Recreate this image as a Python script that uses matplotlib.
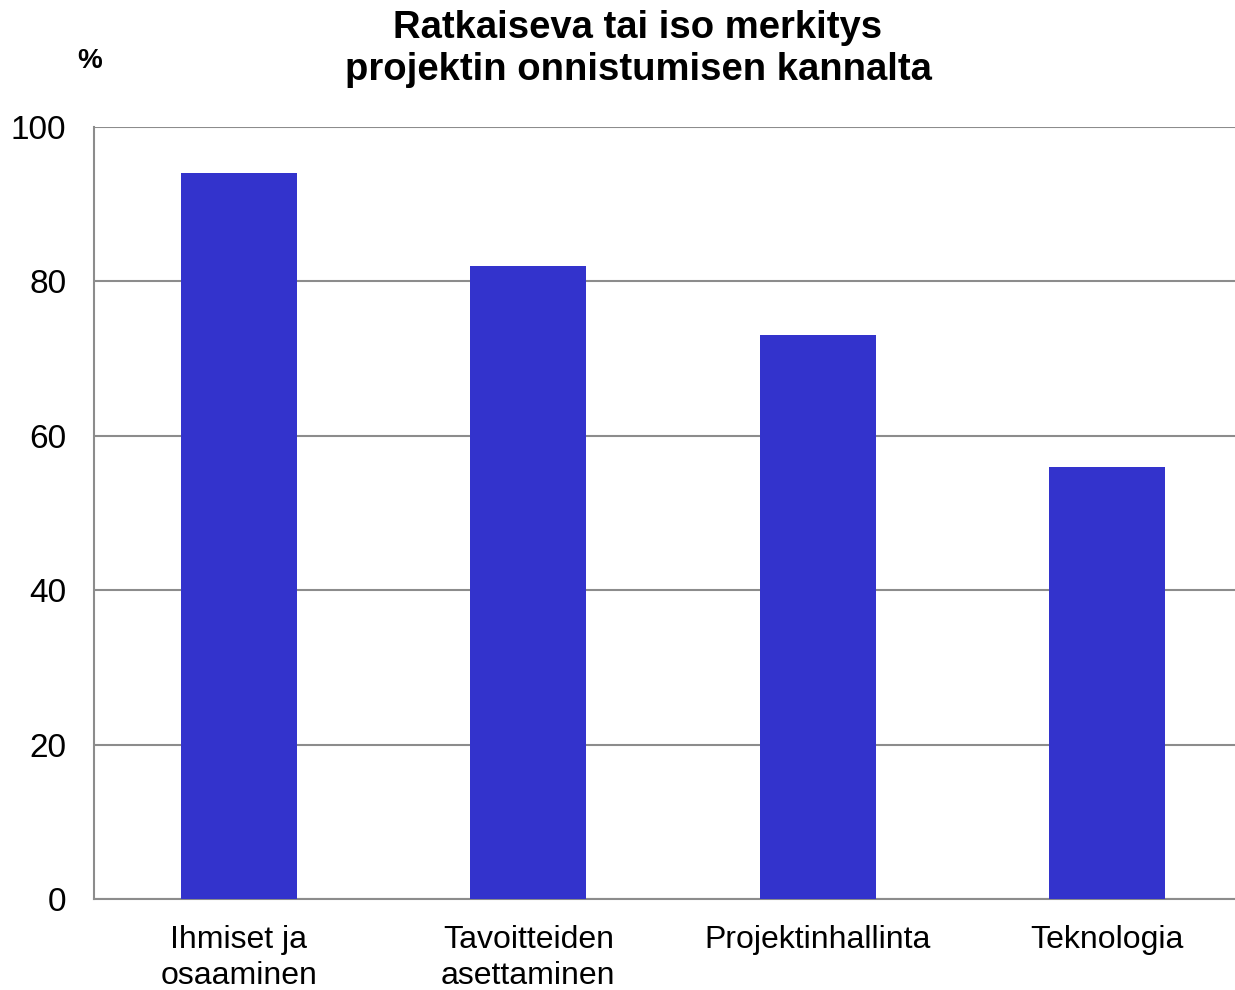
import numpy as np
import matplotlib
matplotlib.use('Agg')
import matplotlib.pyplot as plt

categories = ['Ihmiset ja\nosaaminen', 'Tavoitteiden\nasettaminen', 'Projektinhallinta', 'Teknologia']
values = [94, 82, 73, 56]
yticks = [0, 20, 40, 60, 80, 100]

plt.rcParams['font.family'] = ['Liberation Sans', 'DejaVu Sans']

fig = plt.figure(figsize=(12.35, 9.9), dpi=100)
ax = fig.add_axes([94/1235, 91/990, 1158/1235, 772/990])

x = np.arange(len(categories))
ax.bar(x, values, width=0.4, color='#3333cc', zorder=3)

ax.set_xlim(-0.5, len(categories) - 0.5)
ax.set_ylim(0, 100)
ax.set_yticks(yticks)
ax.set_yticklabels([str(v) for v in yticks], fontsize=24)
ax.set_xticks(x)
ax.set_xticklabels(categories, fontsize=23, linespacing=1.25)
ax.tick_params(axis='both', length=0)
ax.tick_params(axis='y', pad=20)
ax.tick_params(axis='x', pad=19)
ax.yaxis.grid(True, color='#8c8c8c', linewidth=1.5, zorder=0)
for s in ['top', 'right']:
    ax.spines[s].set_visible(False)
ax.spines['left'].set_color('#8c8c8c')
ax.spines['bottom'].set_color('#8c8c8c')
ax.spines['left'].set_linewidth(1.5)
ax.spines['bottom'].set_linewidth(1.5)

fig.text(638/1235, 1 - 49/990, 'Ratkaiseva tai iso merkitys\nprojektin onnistumisen kannalta',
         ha='center', va='center', fontsize=27.5, fontweight='bold', linespacing=1.2)
fig.text(90/1235, 1 - 61/990, '%', ha='center', va='center', fontsize=20, fontweight='bold')

fig.savefig('out.png', dpi=100)
